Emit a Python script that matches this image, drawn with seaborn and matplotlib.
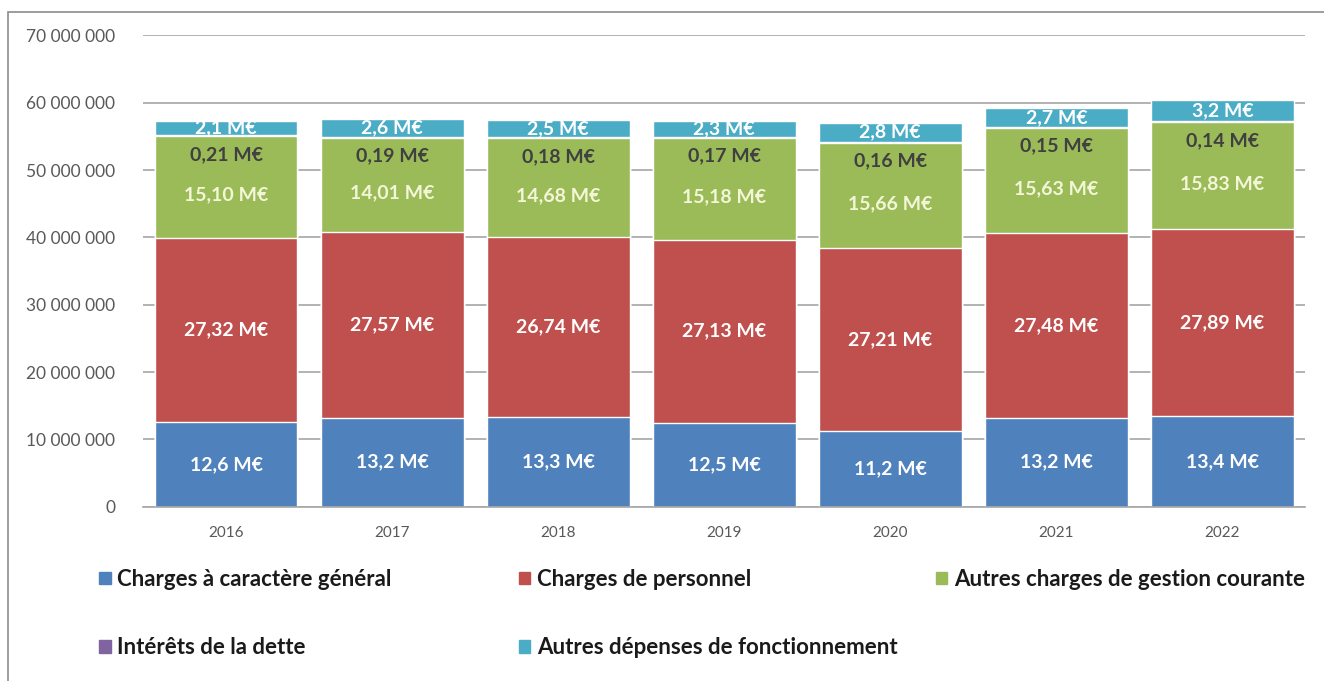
import matplotlib.pyplot as plt
import matplotlib.patches as mpatches
import pandas as pd
import seaborn as sns
import numpy as np

# Data (M€)
years = ['2016', '2017', '2018', '2019', '2020', '2021', '2022']
charges_generales = [12.6, 13.2, 13.3, 12.5, 11.2, 13.2, 13.4]
charges_personnel = [27.32, 27.57, 26.74, 27.13, 27.21, 27.48, 27.89]
autres_gestion = [15.10, 14.01, 14.68, 15.18, 15.66, 15.63, 15.83]
interets_dette = [0.21, 0.19, 0.18, 0.17, 0.16, 0.15, 0.14]
autres_depenses = [2.1, 2.6, 2.5, 2.3, 2.8, 2.7, 3.2]

series_names = ['Charges à caractère général', 'Charges de personnel',
                'Autres charges de gestion courante', 'Intérêts de la dette',
                'Autres dépenses de fonctionnement']
colors = ['#4F81BD', '#C0504D', '#9BBB59', '#8064A2', '#4BACC6']

df = pd.DataFrame({
    'year': years,
    series_names[0]: charges_generales,
    series_names[1]: charges_personnel,
    series_names[2]: autres_gestion,
    series_names[3]: interets_dette,
    series_names[4]: autres_depenses,
})
vals = df[series_names] * 1e6
cum = vals.cumsum(axis=1)

sns.set_style('white')
plt.rcParams['font.family'] = ['Lato', 'DejaVu Sans']

fig = plt.figure(figsize=(13.24, 6.81), dpi=100)
ax = fig.add_axes([0.108, 0.256, 0.878, 0.692])

# stacked bars: draw cumulative totals from top layer down
for name, c in reversed(list(zip(series_names, colors))):
    sns.barplot(x=df['year'], y=cum[name], color=c, saturation=1,
                width=0.86, ax=ax, zorder=2)

ax.set_ylim(0, 70e6)
ax.set_yticks(np.arange(0, 70e6 + 1, 10e6))
ax.set_yticklabels([f'{int(v):,}'.replace(',', ' ') for v in ax.get_yticks()])
ax.yaxis.grid(True, color='#A6A6A6', linewidth=1.2, zorder=0)
ax.set_axisbelow(True)
for s in ['top', 'right', 'left']:
    ax.spines[s].set_visible(False)
ax.spines['bottom'].set_color('#A6A6A6')
ax.spines['bottom'].set_linewidth(1.2)
ax.set_xlabel('')
ax.set_ylabel('')
ax.tick_params(axis='both', length=0, colors='#595959')
ax.tick_params(axis='x', pad=14, labelsize=11)
ax.tick_params(axis='y', pad=20, labelsize=12.5)

# data labels
def fmt(v, d):
    return f'{v:.{d}f} M€'.replace('.', ',')

lab = dict(ha='center', va='center', fontsize=14, fontweight='bold', zorder=5)
for i in range(len(years)):
    base = cum.iloc[i] - vals.iloc[i]
    mid = base + vals.iloc[i] / 2
    ax.text(i, mid.iloc[0], fmt(charges_generales[i], 1), color='white', **lab)
    ax.text(i, mid.iloc[1], fmt(charges_personnel[i], 2), color='white', **lab)
    ax.text(i, mid.iloc[2] - 1.2e6, fmt(autres_gestion[i], 2), color='#F4F6D8', **lab)
    ax.text(i, cum.iloc[i, 2] - 2.7e6, fmt(interets_dette[i], 2), color='#404040', **lab)
    ax.text(i, mid.iloc[4], fmt(autres_depenses[i], 1), color='white', **lab)

# legend entries placed like the original layout
legend_pos = [(0.060, 0.149), (0.377, 0.149), (0.692, 0.149),
              (0.060, 0.049), (0.377, 0.049)]
for name, c, pos in zip(series_names, colors, legend_pos):
    h = mpatches.Patch(color=c, label=name)
    fig.legend(handles=[h], loc='center left', bbox_to_anchor=pos, frameon=False,
               handlelength=0.5, handleheight=0.5, handletextpad=0.3,
               prop={'size': 16, 'weight': 'bold'}, labelcolor='#1A1A1A')

# outer frame
fig.patches.append(mpatches.Rectangle((0.006, -0.01), 1.0, 0.993, transform=fig.transFigure,
                                      fill=False, edgecolor='#8C8C8C', linewidth=1.2))

fig.savefig('out.png', dpi=100)
